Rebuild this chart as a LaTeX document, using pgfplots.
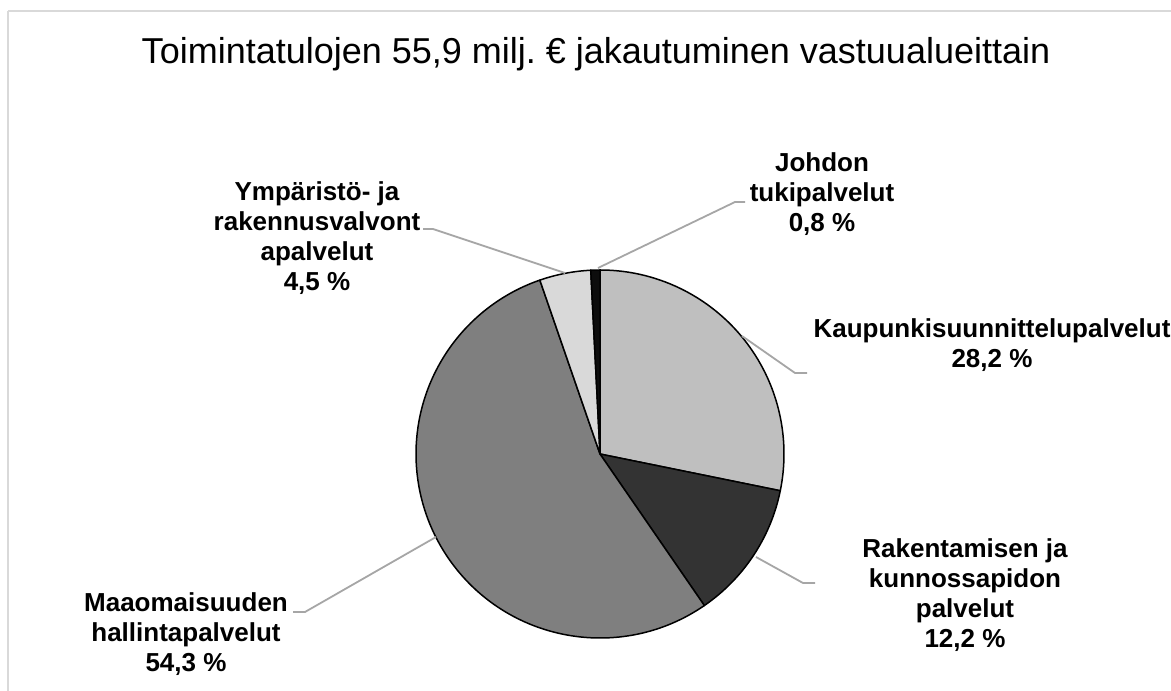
\documentclass[border=0pt]{standalone}
\usepackage{pgfplots}
\pgfplotsset{compat=1.18}
\usepackage{pgfplotstable}
\usepackage{fontspec}
\setmainfont{Liberation Sans}
\definecolor{col0}{HTML}{BFBFBF}
\definecolor{col1}{HTML}{333333}
\definecolor{col2}{HTML}{7F7F7F}
\definecolor{col3}{HTML}{D9D9D9}
\definecolor{col4}{HTML}{0D0D0D}
\definecolor{leader}{HTML}{A6A6A6}
\definecolor{frame}{HTML}{D9D9D9}
\pgfplotstableread{
share
28.2
12.2
54.3
4.5
0.8
}\piedata
\begin{document}
\begin{tikzpicture}
% cumulative angles, clockwise from 12 o'clock
\xdef\acc{90}
\pgfplotsforeachungrouped \i in {0,...,4}{%
  \pgfplotstablegetelem{\i}{share}\of\piedata
  \pgfmathsetmacro\nxt{\acc-3.6*\pgfplotsretval}%
  \expandafter\xdef\csname angS\i\endcsname{\acc}%
  \expandafter\xdef\csname angE\i\endcsname{\nxt}%
  \xdef\acc{\nxt}%
}
\begin{axis}[
  scale only axis, width=1171pt, height=691pt,
  xmin=0, xmax=1171, ymin=0, ymax=691,
  enlargelimits=false, hide axis, clip=true,
]
% frame of chart area
\draw[frame, line width=1.5pt] (axis cs:8,680) -- (axis cs:1190,680);
\draw[frame, line width=1.5pt] (axis cs:8,680) -- (axis cs:8,-20);
% title
\node[anchor=base, font=\fontsize{36}{40}\selectfont] at (axis cs:596,627)
  {Toimintatulojen 55,9 milj.\ € jakautuminen vastuualueittain};
% pie slices
\pgfplotsinvokeforeach{0,...,4}{
  \filldraw[fill=col#1, draw=black, line width=1.5pt, line join=round]
    (axis cs:600,237) -- ++(\csname angS#1\endcsname:184pt)
    arc[start angle=\csname angS#1\endcsname, end angle=\csname angE#1\endcsname, radius=184pt] -- cycle;
}
% leader lines
\addplot[leader, line width=1.8pt, no marks] coordinates {(598,423) (735,489) (745,489)};
\addplot[leader, line width=1.8pt, no marks] coordinates {(565,418) (433,462) (423,462)};
\addplot[leader, line width=1.8pt, no marks] coordinates {(742,355) (795,318) (807,318)};
\addplot[leader, line width=1.8pt, no marks] coordinates {(756,134) (803,108) (815,108)};
\addplot[leader, line width=1.8pt, no marks] coordinates {(436,154) (305,79) (293,79)};
% labels
\tikzset{lbl/.style={align=center, font=\fontsize{26}{30}\selectfont\bfseries, inner sep=0pt}}
\node[lbl] at (axis cs:822,497) {Johdon\\tukipalvelut\\0,8~\%};
\node[lbl] at (axis cs:317,453) {Ympäristö- ja\\rakennusvalvont\\apalvelut\\4,5~\%};
\node[lbl] at (axis cs:992,346) {Kaupunkisuunnittelupalvelut\\28,2~\%};
\node[lbl] at (axis cs:965,96) {Rakentamisen ja\\kunnossapidon\\palvelut\\12,2~\%};
\node[lbl] at (axis cs:186,57) {Maaomaisuuden\\hallintapalvelut\\54,3~\%};
\end{axis}
\pgfresetboundingbox
\useasboundingbox (0,0) rectangle (1171pt,691pt);
\end{tikzpicture}
\end{document}
